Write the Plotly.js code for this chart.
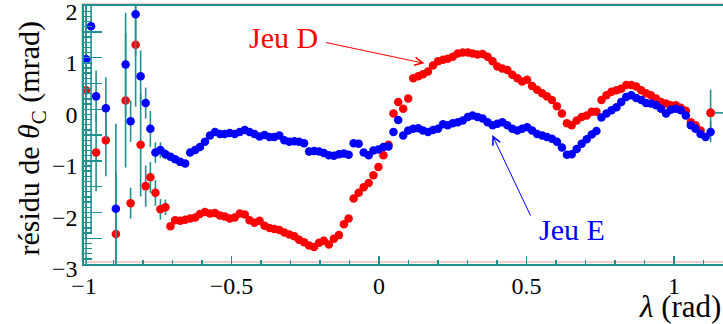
<!DOCTYPE html>
<html>
<head>
<meta charset="utf-8">
<script src="https://cdn.plot.ly/plotly-3.0.1.min.js"></script>
<style>html,body{margin:0;padding:0;background:#fff;}#chart{width:723px;height:324px;}</style>
</head>
<body>
<div id="chart"></div>
<script>
// lambda bin centres (rad)
var lambda = [-0.993,-0.976,-0.959,-0.943,-0.926,-0.909,-0.892,-0.875,-0.859,-0.842,
-0.825,-0.808,-0.791,-0.775,-0.758,-0.741,-0.724,-0.707,-0.691,-0.674,
-0.657,-0.640,-0.623,-0.607,-0.590,-0.573,-0.556,-0.539,-0.523,-0.506,
-0.489,-0.472,-0.455,-0.439,-0.422,-0.405,-0.388,-0.371,-0.355,-0.338,
-0.321,-0.304,-0.287,-0.271,-0.254,-0.237,-0.220,-0.203,-0.187,-0.170,
-0.153,-0.136,-0.119,-0.103,-0.086,-0.069,-0.052,-0.035,-0.019,-0.002,
0.015,0.032,0.049,0.065,0.082,0.099,0.116,0.133,0.149,0.166,
0.183,0.200,0.217,0.233,0.250,0.267,0.284,0.301,0.317,0.334,
0.351,0.368,0.385,0.401,0.418,0.435,0.452,0.469,0.485,0.502,
0.519,0.536,0.553,0.569,0.586,0.603,0.620,0.637,0.653,0.670,
0.687,0.704,0.721,0.737,0.754,0.771,0.788,0.805,0.821,0.838,
0.855,0.872,0.889,0.905,0.922,0.939,0.956,0.973,0.989,1.006,
1.023,1.040,1.057,1.073,1.090,1.107,1.124];

// Jeu D residuals (mrad)
var jeuD = [0.37,null,-0.84,null,-0.60,null,-2.42,null,0.17,-1.82,
1.25,-0.69,-1.49,-1.32,-1.62,-1.94,-1.90,-2.27,-2.15,-2.16,
-2.14,-2.12,-2.10,-2.03,-1.99,-2.02,-2.01,-2.06,-2.08,-2.12,
-2.10,-2.02,-2.04,-2.15,-2.20,-2.16,-2.26,-2.30,-2.32,-2.34,
-2.39,-2.43,-2.46,-2.53,-2.58,-2.64,-2.67,-2.59,-2.55,-2.62,
-2.51,-2.44,-2.23,-2.12,-1.73,-1.62,-1.51,-1.43,-1.28,-1.12,
-0.89,-0.69,-0.08,0.14,0.01,0.21,0.60,0.64,0.68,0.73,
0.85,0.93,0.96,0.98,1.02,1.08,1.10,1.10,1.08,1.06,
1.07,1.02,0.93,0.83,0.79,0.76,0.67,0.60,0.54,0.57,
0.45,0.38,0.31,0.25,0.18,0.06,-0.08,-0.27,-0.31,-0.22,
-0.15,-0.12,-0.05,-0.05,0.18,0.27,0.34,0.37,0.40,0.47,
0.47,0.44,0.37,0.31,0.27,0.21,0.14,0.11,0.08,0.08,
0.03,-0.03,-0.25,-0.31,-0.41,null,-0.07];

// Jeu E residuals (mrad)
var jeuE = [0.97,1.61,0.25,null,0.02,null,-1.93,null,0.87,-0.23,
1.84,0.64,0.12,-0.38,-0.84,-0.79,-0.87,-0.92,-0.97,-1.02,
-1.05,-0.84,-0.79,-0.73,-0.63,-0.51,-0.44,-0.48,-0.48,-0.46,
-0.48,-0.44,-0.40,-0.44,-0.48,-0.53,-0.50,-0.54,-0.54,-0.51,
-0.60,-0.63,-0.62,-0.63,-0.66,-0.82,-0.81,-0.82,-0.85,-0.89,
-0.90,-0.87,-0.86,-0.88,-0.66,-0.67,-0.84,-0.89,-0.80,-0.78,
-0.73,-0.72,-0.44,-0.21,-0.51,-0.41,-0.38,-0.37,-0.41,-0.44,
-0.40,-0.38,-0.29,-0.31,-0.27,-0.25,-0.22,-0.15,-0.12,-0.15,
-0.18,-0.25,-0.31,-0.28,-0.25,-0.31,-0.38,-0.41,-0.38,-0.35,
-0.41,-0.48,-0.51,-0.54,-0.57,-0.63,-0.74,-0.88,-0.87,-0.77,
-0.67,-0.58,-0.49,-0.42,-0.16,-0.08,-0.02,0.04,0.14,0.24,
0.27,0.22,0.18,0.12,0.11,0.08,0.01,-0.08,-0.01,0.01,
-0.02,-0.12,-0.31,-0.38,-0.48,-0.54,-0.44];

// vertical errors (mrad)
var errD = [3.5,0,0.75,0,0.7,0,1.2,0,1.3,0.3,
1.2,1.0,0.4,0.3,0.25,0.2,0.15,0,0,0,
0,0,0,0,0,0,0,0,0,0, 0,0,0,0,0,0,0,0,0,0,
0,0,0,0,0,0,0,0,0,0, 0,0,0,0,0,0,0,0,0,0,
0,0,0,0,0,0,0,0,0,0, 0,0,0,0,0,0,0,0,0,0,
0,0,0,0,0,0,0,0,0,0, 0,0,0,0,0,0,0,0,0,0,
0,0,0,0,0,0,0,0,0,0, 0,0,0,0,0,0,0,0,0,0,
0,0,0,0,0,0,0.45];
var errE = [3.5,4.0,0.5,0,0.6,0,1.65,0,1.0,0.4,
0.8,0.5,0.3,0.35,0.2,0.15,0.1,0,0,0,
0,0,0,0,0,0,0,0,0,0, 0,0,0,0,0,0,0,0,0,0,
0,0,0,0,0,0,0,0,0,0, 0,0,0,0,0,0,0,0,0,0,
0,0,0,0,0,0,0,0,0,0, 0,0,0,0,0,0,0,0,0,0,
0,0,0,0,0,0,0,0,0,0, 0,0,0,0,0,0,0,0,0,0,
0,0,0,0,0,0,0,0,0,0, 0,0,0,0,0,0,0,0,0,0,
0,0,0,0,0,0,0.2];
// horizontal error (right side) of the last Jeu D point
var errXLastD = 0.06;

var xTickVals = [-1,-0.5,0,0.5,1];
var xTickText = ['\u22121','\u22120.5','0','0.5','1'];
var yTickVals = [-3,-2.5,-2,-1.5,-1,-0.5,0,0.5,1,1.5,2];
var yTickText = ['\u22123','','\u22122','','\u22121','','0','','1','','2'];

var TEAL = '#1f9191';
var PINK = '#f5b8b8';
var FONT = 'Liberation Serif';
var last = lambda.length - 1;

var traces = [
  {x: lambda, y: jeuD, type: 'scatter', mode: 'markers', name: 'Jeu D',
   marker: {color: '#ff0000', size: 8.5},
   error_y: {type: 'data', array: errD, visible: true, color: TEAL, thickness: 1.6, width: 0}},
  {x: [lambda[last]], y: [jeuD[last]], type: 'scatter', mode: 'markers', showlegend: false,
   marker: {color: '#ff0000', size: 8.5},
   error_x: {type: 'data', symmetric: false, array: [errXLastD], arrayminus: [0], visible: true, color: TEAL, thickness: 1.6, width: 0}},
  {x: lambda, y: jeuE, type: 'scatter', mode: 'markers', name: 'Jeu E',
   marker: {color: '#0000ff', size: 8.5},
   error_y: {type: 'data', array: errE, visible: true, color: TEAL, thickness: 1.6, width: 0}}
];

var layout = {
  width: 723, height: 324,
  margin: {l: 84, r: 0, t: 6, b: 60},
  paper_bgcolor: '#ffffff', plot_bgcolor: '#ffffff',
  showlegend: false,
  font: {family: FONT},
  xaxis: {
    range: [-1, 1.166], showgrid: false, zeroline: false,
    showline: true, linecolor: TEAL, linewidth: 1.6, mirror: true,
    tickmode: 'array', tickvals: xTickVals, ticktext: xTickText,
    ticks: 'inside', ticklen: 8, tickwidth: 1.4, tickcolor: TEAL,
    minor: {dtick: 0.1, tick0: 0, ticks: 'inside', ticklen: 4, tickwidth: 1.4, tickcolor: TEAL},
    tickfont: {family: FONT, size: 24, color: '#000'}
  },
  yaxis: {
    range: [-3, 2.002], showgrid: false, zeroline: false,
    showline: true, linecolor: TEAL, linewidth: 1.6, mirror: false,
    tickmode: 'array', tickvals: yTickVals, ticktext: yTickText,
    ticks: 'inside', ticklen: 18, tickwidth: 1.4, tickcolor: TEAL,
    minor: {dtick: 0.1, tick0: 0, ticks: 'inside', ticklen: 8, tickwidth: 1.4, tickcolor: TEAL},
    tickfont: {family: FONT, size: 24, color: '#000'},
    ticklabeloverflow: 'allow', ticklabelshift: 5
  },
  shapes: [
    {type: 'line', xref: 'paper', yref: 'paper', x0: -0.003, x1: 1, y0: 1.008, y1: 1.008,
     line: {color: PINK, width: 1.4}, layer: 'below'},
    {type: 'line', xref: 'paper', yref: 'paper', x0: -0.003, x1: -0.003, y0: 0.008, y1: 1.008,
     line: {color: PINK, width: 1.4}, layer: 'below'},
    {type: 'line', xref: 'paper', yref: 'paper', x0: -0.003, x1: 1, y0: 0.008, y1: 0.008,
     line: {color: PINK, width: 1.4}, layer: 'below'}
  ],
  annotations: [
    {xref: 'x', yref: 'y', x: -0.447, y: 1.40, xanchor: 'left', yanchor: 'middle',
     text: 'Jeu D', showarrow: false, font: {family: FONT, size: 30, color: '#ff0000'}},
    {xref: 'x', yref: 'y', x: 0.154, y: 0.89, axref: 'x', ayref: 'y', ax: -0.185, ay: 1.30,
     text: '', showarrow: true, arrowhead: 5, arrowsize: 1.6, arrowwidth: 1, arrowcolor: '#ff0000'},
    {xref: 'x', yref: 'y', x: 0.535, y: -2.33, xanchor: 'left', yanchor: 'middle',
     text: 'Jeu E', showarrow: false, font: {family: FONT, size: 30, color: '#0000ff'}},
    {xref: 'x', yref: 'y', x: 0.384, y: -0.50, axref: 'x', ayref: 'y', ax: 0.516, ay: -2.09,
     text: '', showarrow: true, arrowhead: 5, arrowsize: 1.6, arrowwidth: 1, arrowcolor: '#0000ff'},
    {xref: 'paper', yref: 'paper', x: -0.0830, y: 0.49, xanchor: 'center', yanchor: 'middle',
     textangle: -90, showarrow: false,
     text: 'résidu de <i>θ</i><sub>C</sub> (mrad)', font: {family: FONT, size: 30, color: '#000'}},
    {xref: 'paper', yref: 'paper', x: 1, y: -0.163, xanchor: 'right', yanchor: 'middle',
     showarrow: false, text: '<i>λ</i> (rad)', font: {family: FONT, size: 31, color: '#000'}}
  ]
};

Plotly.newPlot('chart', traces, layout, {displayModeBar: false, staticPlot: true});
</script>
</body>
</html>
